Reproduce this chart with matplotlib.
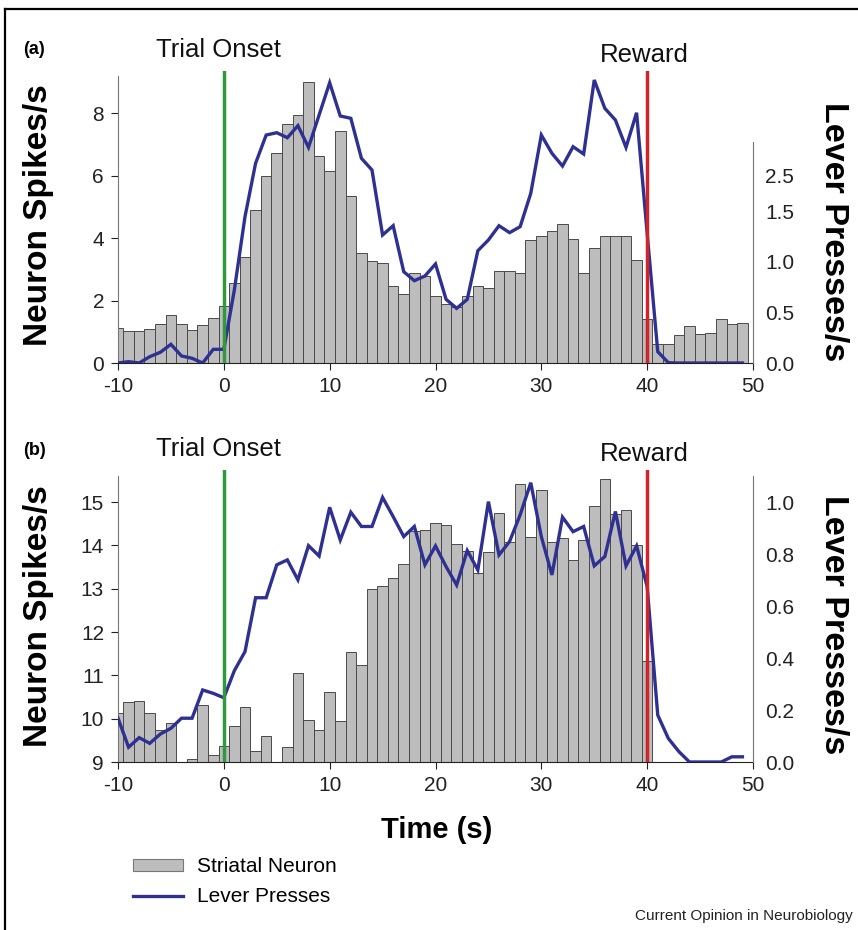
import numpy as np
import matplotlib
matplotlib.use('Agg')
import matplotlib.pyplot as plt
from matplotlib.patches import Patch
from matplotlib.lines import Line2D

plt.rcParams['font.family'] = ['Liberation Sans', 'DejaVu Sans']
plt.rcParams['axes.unicode_minus'] = False

# 1 s bins, centred on the second
time = np.arange(-10, 50)

# (a) striatal neuron, spikes/s
spikes_a = [1.12, 1.04, 1.04, 1.09, 1.25, 1.53, 1.24, 1.05, 1.21, 1.44,
            1.82, 2.56, 3.39, 4.90, 6.00, 6.72, 7.67, 7.96, 9.00, 6.65,
            6.16, 7.43, 5.35, 3.53, 3.26, 3.22, 2.46, 2.22, 2.88, 2.80,
            2.15, 1.90, 1.80, 2.16, 2.47, 2.39, 2.96, 2.96, 2.90, 3.93,
            4.06, 4.23, 4.47, 3.97, 2.88, 3.70, 4.06, 4.06, 4.06, 3.31,
            1.42, 0.61, 0.61, 0.90, 1.20, 0.92, 0.96, 1.41, 1.25, 1.29]

# (a) lever presses/s
lever_a = [0.0, 0.013, 0.0, 0.062, 0.105, 0.183, 0.069, 0.046, 0.0, 0.134,
           0.134, 0.72, 1.435, 1.958, 2.235, 2.258, 2.209, 2.327, 2.114, 2.431,
           2.748, 2.422, 2.399, 2.007, 1.892, 1.255, 1.346, 0.895, 0.807, 0.853,
           0.971, 0.624, 0.536, 0.624, 1.101, 1.206, 1.346, 1.278, 1.337, 1.663,
           2.235, 2.056, 1.931, 2.121, 2.049, 2.775, 2.497, 2.382, 2.114, 2.454,
           1.271, 0.111, 0.003, 0.0, 0.0, 0.0, 0.0, 0.0, 0.0, 0.0]

# (b) striatal neuron, spikes/s (nan = below the 9 spikes/s floor)
nan = np.nan
spikes_b = [10.12, 10.38, 10.41, 10.12, 9.75, 9.90, nan, 9.06, 10.32, 9.16,
            9.37, 9.82, 10.27, 9.25, 9.59, nan, 9.35, 11.06, 9.96, 9.73,
            10.61, 9.95, 11.55, 11.25, 12.99, 13.06, 13.24, 13.57, 14.33, 14.35,
            14.52, 14.48, 14.04, 13.88, 13.37, 13.85, 14.75, 14.08, 15.41, 14.19,
            15.27, 14.08, 14.18, 13.67, 14.13, 14.92, 15.53, 14.73, 14.81, 14.00,
            11.32, nan, nan, nan, nan, nan, nan, nan, nan, nan]

# (b) lever presses/s
lever_b = [0.169, 0.057, 0.094, 0.072, 0.108, 0.130, 0.169, 0.169, 0.278, 0.265,
           0.248, 0.353, 0.426, 0.634, 0.634, 0.761, 0.780, 0.703, 0.835, 0.795,
           0.983, 0.857, 0.964, 0.909, 0.909, 1.021, 0.947, 0.870, 0.909, 0.761,
           0.834, 0.754, 0.683, 0.816, 0.741, 1.005, 0.799, 0.851, 0.954, 1.078,
           0.870, 0.722, 0.945, 0.889, 0.909, 0.757, 0.793, 0.967, 0.757, 0.834,
           0.677, 0.181, 0.091, 0.040, 0.0, 0.0, 0.0, 0.0, 0.02, 0.02]

x_ticks = [-10, 0, 10, 20, 30, 40, 50]
onset, reward = 0, 40

# tick labels as printed (the right axis of (a) is not evenly labelled)
left_ticks_a = [0, 2, 4, 6, 8]
right_ticks_a = [0.0, 0.5, 1.0, 1.49, 1.84]
right_labels_a = ['0.0', '0.5', '1.0', '1.5', '2.5']
left_ticks_b = [9, 10, 11, 12, 13, 14, 15]
right_ticks_b = [0.0, 0.2, 0.4, 0.6, 0.8, 1.0]
right_labels_b = ['0.0', '0.2', '0.4', '0.6', '0.8', '1.0']

BAR_FACE = '#bdbdbd'
BAR_EDGE = '#4a4a4a'
LINE_COL = '#2e3192'
GREEN = '#2f9a3c'
RED = '#d2232a'

fig = plt.figure(figsize=(8.58, 9.30), dpi=100)


def panel(rect, spikes, lever, ylim_l, bound_l, lticks, ylim_r, bound_r, rticks, rlabels):
    ax = fig.add_axes(rect)
    ax.bar(time, spikes, width=1.0, color=BAR_FACE, edgecolor=BAR_EDGE, linewidth=0.7)
    ax.set_xlim(-10, 50)
    ax.set_ylim(*ylim_l)
    ax.set_xticks(x_ticks)
    ax.set_yticks(lticks)
    for s in ['top', 'right']:
        ax.spines[s].set_visible(False)
    ax.spines['left'].set_bounds(*bound_l)
    ax.spines['left'].set_color('#777777')
    ax.spines['bottom'].set_color('#222222')
    ax.tick_params(axis='both', direction='out', length=5, width=0.8,
                   labelsize=15, colors='#222222', pad=5)

    ax2 = ax.twinx()
    ax2.plot(time, lever, color=LINE_COL, lw=2.4, solid_joinstyle='miter', zorder=3)
    ax2.axvline(onset, color=GREEN, lw=2.5, zorder=4)
    ax2.axvline(reward, color=RED, lw=2.5, zorder=4)
    ax2.set_ylim(*ylim_r)
    ax2.set_yticks(rticks, rlabels)
    for s in ['top', 'left', 'bottom']:
        ax2.spines[s].set_visible(False)
    ax2.spines['right'].set_bounds(*bound_r)
    ax2.spines['right'].set_color('#777777')
    ax2.tick_params(axis='y', length=0, labelsize=15, colors='#222222', pad=9)
    ax2.text(-0.5, 1.072, 'Trial Onset', transform=ax2.get_xaxis_transform(),
             ha='center', va='center', fontsize=18.5, color='#111111')
    ax2.text(39.7, 1.055, 'Reward', transform=ax2.get_xaxis_transform(),
             ha='center', va='center', fontsize=18.5, color='#111111')
    return ax, ax2


W = 635 / 858
H = 292 / 930
L = 118 / 858
panel([L, 1 - 363 / 930, W, H], spikes_a, lever_a,
      (0, 9.36), (0, 9.2), left_ticks_a,
      (0, 2.863), (0, 2.17), right_ticks_a, right_labels_a)
panel([L, 1 - 762 / 930, W, H], spikes_b, lever_b,
      (9, 15.74), (9, 15.59), left_ticks_b,
      (0, 1.127), (0, 1.104), right_ticks_b, right_labels_b)

# panel letters and axis titles
fig.text(0.040, 1 - 50 / 930, '(a)', fontsize=13, fontweight='bold', ha='center', va='center')
fig.text(0.040, 1 - 450 / 930, '(b)', fontsize=13, fontweight='bold', ha='center', va='center')
for yc in [1 - 215 / 930, 1 - 616 / 930]:
    fig.text(0.0443, yc, 'Neuron Spikes/s', fontsize=24, fontweight='bold',
             rotation=90, ha='center', va='center')
for yc in [1 - 232 / 930, 1 - 625 / 930]:
    fig.text(0.971, yc, 'Lever Presses/s', fontsize=24.5, fontweight='bold',
             rotation=270, ha='center', va='center')
fig.text(437 / 858, 1 - 830 / 930, 'Time (s)', fontsize=21, fontweight='bold',
         ha='center', va='center')

handles = [Patch(facecolor=BAR_FACE, edgecolor='#777777', linewidth=0.8),
           Line2D([0], [0], color=LINE_COL, lw=2.4)]
fig.legend(handles, ['Striatal Neuron', 'Lever Presses'],
           loc='upper left', bbox_to_anchor=(133 / 858, 1 - 857 / 930),
           frameon=False, fontsize=15, handlelength=2.4, handleheight=0.5,
           handletextpad=0.65, labelspacing=0.55, borderpad=0, borderaxespad=0)

fig.text(853 / 858, 1 - 916 / 930, 'Current Opinion in Neurobiology',
         fontsize=11, ha='right', va='center', color='#222222')

# outer frame (top and left edges only are in the picture)
fig.add_artist(Line2D([5 / 858, 1.0], [1 - 9 / 930, 1 - 9 / 930],
                      transform=fig.transFigure, color='black', lw=1.6))
fig.add_artist(Line2D([5 / 858, 5 / 858], [1 - 9 / 930, 0.0],
                      transform=fig.transFigure, color='black', lw=1.6))

fig.savefig('out.png', dpi=100)
